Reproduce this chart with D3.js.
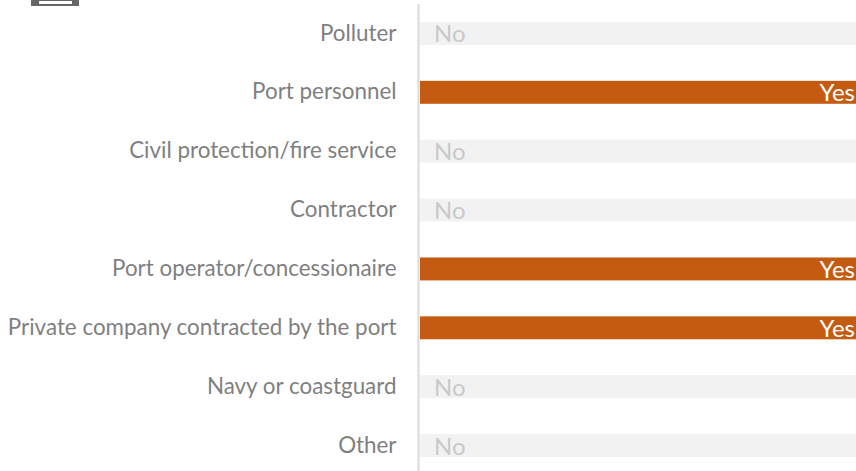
<!DOCTYPE html>
<html>
<head>
<meta charset="utf-8">
<script src="https://cdn.jsdelivr.net/npm/d3@7"></script>
<style>
    html, body { margin: 0; padding: 0; background: #fff; }
    svg { display: block; }
    text { font-family: Lato, "Open Sans", sans-serif; }
</style>
</head>
<body>
<div id="chart"></div>
<script>
const categories = [
    'Polluter',
    'Port personnel',
    'Civil protection/fire service',
    'Contractor',
    'Port operator/concessionaire',
    'Private company contracted by the port',
    'Navy or coastguard',
    'Other'
];
const answers = ['No', 'Yes', 'No', 'No', 'Yes', 'Yes', 'No', 'No'];
const answerDomain = ['No', 'Yes'];

const width = 856;
const height = 471;

const svg = d3.select('#chart').append('svg')
    .attr('width', width)
    .attr('height', height);

// clipped icon at the top edge
svg.append('rect').attr('x', 31).attr('y', -4).attr('width', 48).attr('height', 10).attr('fill', '#666666');
svg.append('rect').attr('x', 39).attr('y', 1).attr('width', 33).attr('height', 3).attr('fill', '#ffffff');

const yScale = d3.scaleBand()
    .domain(categories)
    .range([4, 475])
    .paddingInner(0.61)
    .paddingOuter(0.305);

const xScale = d3.scaleLinear()
    .domain([0, 1])
    .range([420, 856]);

const fillColor = d3.scaleOrdinal().domain(answerDomain).range(['#f2f2f2', '#c55a11']);
const textColor = d3.scaleOrdinal().domain(answerDomain).range(['#c9c9c9', '#ffffff']);

const rows = categories.map((c, i) => ({ category: c, answer: answers[i] }));

svg.selectAll('.bar')
    .data(rows)
    .join('rect')
    .attr('class', 'bar')
    .attr('x', xScale(0))
    .attr('y', d => yScale(d.category))
    .attr('width', xScale(1) - xScale(0))
    .attr('height', yScale.bandwidth())
    .attr('fill', d => fillColor(d.answer));

const yAxis = d3.axisLeft(yScale).tickSize(0).tickPadding(22);
const axisG = svg.append('g')
    .attr('transform', 'translate(418.5,0)')
    .call(yAxis);
axisG.select('.domain').attr('stroke', '#d9d9d9').attr('stroke-width', 2).attr('d', 'M0,4V471');
axisG.selectAll('text')
    .attr('fill', '#7f7f7f')
    .style('font-size', '22.4px');

svg.selectAll('.answer')
    .data(rows)
    .join('text')
    .attr('class', 'answer')
    .attr('x', d => d.answer === 'Yes' ? xScale(1) - 1 : xScale(0) + 14)
    .attr('y', d => yScale(d.category) + yScale.bandwidth() / 2 + 9)
    .attr('text-anchor', d => d.answer === 'Yes' ? 'end' : 'start')
    .attr('fill', d => textColor(d.answer))
    .style('font-size', '24px')
    .text(d => d.answer);
</script>
</body>
</html>
